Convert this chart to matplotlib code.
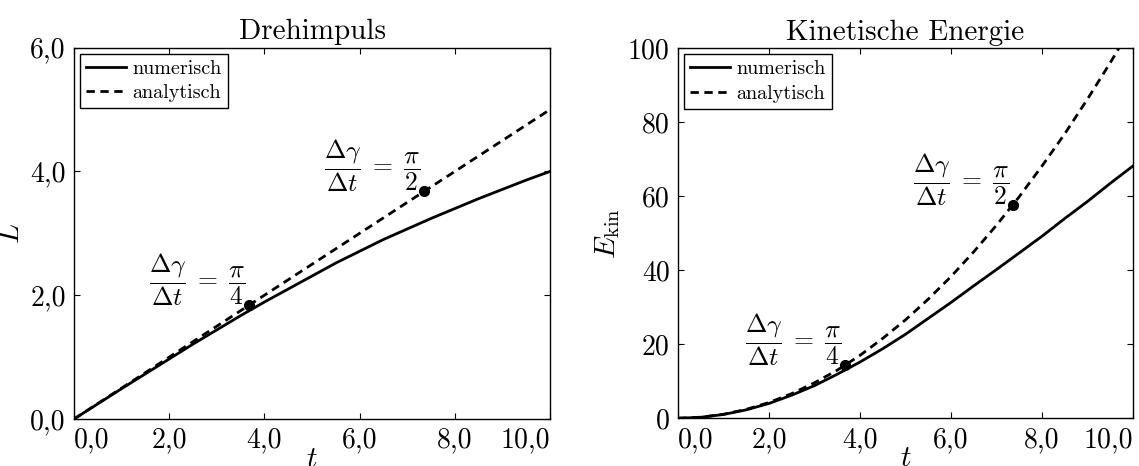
import matplotlib
matplotlib.use('Agg')
import matplotlib.pyplot as plt

plt.rcParams['font.family'] = 'serif'
plt.rcParams['font.serif'] = ['cmr10', 'DejaVu Serif']
plt.rcParams['mathtext.fontset'] = 'cm'
plt.rcParams['axes.unicode_minus'] = False

# Werte
t = [0.0, 0.5, 1.0, 1.5, 2.0, 2.5, 3.0, 3.5, 4.0, 4.5, 5.0,
     5.5, 6.0, 6.5, 7.0, 7.5, 8.0, 8.5, 9.0, 9.5, 10.0]
L_num = [0.0, 0.245, 0.49, 0.73, 0.97, 1.21, 1.44, 1.67, 1.89, 2.10, 2.31,
         2.52, 2.71, 2.90, 3.07, 3.24, 3.40, 3.56, 3.71, 3.86, 4.00]
L_ana = [0.0, 0.25, 0.5, 0.75, 1.0, 1.25, 1.5, 1.75, 2.0, 2.25, 2.5,
         2.75, 3.0, 3.25, 3.5, 3.75, 4.0, 4.25, 4.5, 4.75, 5.0]
E_num = [0.0, 0.26, 1.02, 2.27, 4.0, 6.24, 8.83, 11.9, 15.2, 18.8, 22.7,
         27.0, 31.3, 35.8, 40.2, 44.7, 49.2, 54.0, 58.6, 63.5, 68.2]
E_ana = [0.0, 0.27, 1.07, 2.4, 4.26, 6.66, 9.6, 13.0, 17.0, 21.6, 26.6,
         32.2, 38.3, 45.0, 52.2, 59.9, 68.2, 76.9, 86.3, 96.1, 106.5]

# markierte Punkte
t_mark = [3.68, 7.36]
L_mark = [1.84, 3.68]
E_mark = [14.4, 57.7]
mark_labels = [r'$\dfrac{\Delta\gamma}{\Delta t}\;=\;\dfrac{\pi}{4}$',
               r'$\dfrac{\Delta\gamma}{\Delta t}\;=\;\dfrac{\pi}{2}$']

xticks = [0, 2, 4, 6, 8, 10]
xticklabels = ['0,0', '2,0', '4,0', '6,0', '8,0', '10,0']
L_ticks = [0, 2, 4, 6]
L_ticklabels = ['0,0', '2,0', '4,0', '6,0']
E_ticks = [0, 20, 40, 60, 80, 100]
E_ticklabels = ['0', '20', '40', '60', '80', '100']

fig = plt.figure(figsize=(11.39, 4.66), dpi=100)
ax1 = fig.add_axes([0.065, 0.1009, 0.418, 0.797])
ax2 = fig.add_axes([0.5953, 0.1025, 0.3995, 0.794])


def style(ax, yticks, yticklabels, ylim):
    ax.set_xlim(0, 10)
    ax.set_ylim(*ylim)
    ax.set_xticks(xticks)
    ax.set_xticklabels(xticklabels)
    ax.set_yticks(yticks)
    ax.set_yticklabels(yticklabels)
    xl = ax.get_xticklabels()
    xl[0].set_ha('left')
    xl[-1].set_ha('right')
    ax.tick_params(direction='in', top=True, right=True, length=4,
                   labelsize=20, pad=6)
    for s in ax.spines.values():
        s.set_linewidth(1.0)
    ax.legend(loc='upper left', fontsize=14.5, frameon=True, fancybox=False,
              edgecolor='black', framealpha=1, borderaxespad=0.3,
              handlelength=2.0, handletextpad=0.3, borderpad=0.3,
              labelspacing=0.3)


ax1.plot(t, L_num, color='black', lw=2.0, label='numerisch')
ax1.plot(t, L_ana, color='black', lw=2.0, dashes=(3, 2), label='analytisch')
ax1.plot(t_mark, L_mark, 'o', color='black', ms=7)
for x, y, s in zip(t_mark, L_mark, mark_labels):
    ax1.annotate(s, xy=(x, y), xytext=(-3, -2), textcoords='offset points',
                 ha='right', va='bottom', fontsize=18.5)
ax1.set_title('Drehimpuls', fontsize=21)
ax1.set_xlabel(r'$t$', fontsize=21, labelpad=-5)
ax1.set_ylabel(r'$L$', fontsize=21, labelpad=4)
style(ax1, L_ticks, L_ticklabels, (0, 6))

ax2.plot(t, E_num, color='black', lw=2.0, label='numerisch')
ax2.plot(t, E_ana, color='black', lw=2.0, dashes=(3, 2), label='analytisch')
ax2.plot(t_mark, E_mark, 'o', color='black', ms=7)
for x, y, s in zip(t_mark, E_mark, mark_labels):
    ax2.annotate(s, xy=(x, y), xytext=(-3, -2), textcoords='offset points',
                 ha='right', va='bottom', fontsize=18.5)
ax2.set_title('Kinetische Energie', fontsize=21)
ax2.set_xlabel(r'$t$', fontsize=21, labelpad=-5)
ax2.set_ylabel(r'$E_{\mathrm{kin}}$', fontsize=21, labelpad=4)
style(ax2, E_ticks, E_ticklabels, (0, 100))

fig.savefig('out.png', dpi=100)
